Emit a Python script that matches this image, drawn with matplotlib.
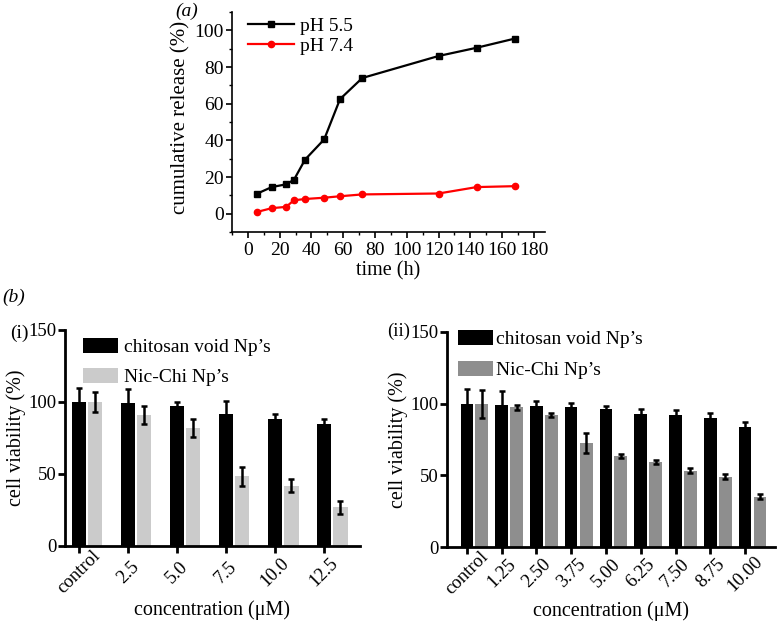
import numpy as np
import matplotlib
matplotlib.use("Agg")
import matplotlib.pyplot as plt
from matplotlib.ticker import MultipleLocator
from matplotlib.patches import Patch

plt.rcParams['font.family'] = ['Liberation Serif', 'DejaVu Serif']

# (a) release data
time_h = [6, 15, 24, 29, 36, 48, 58, 72, 120, 144, 168]
ph55 = [11, 14.5, 16, 18.5, 29.5, 40.5, 62.5, 74, 86, 90.5, 95.5]
ph74 = [1, 3, 3.7, 7.3, 8, 8.7, 9.5, 10.5, 11, 14.5, 15]

# (b)(i) viability
conc_i = ['control', '2.5', '5.0', '7.5', '10.0', '12.5']
void_i = [100, 99, 97, 92, 88.5, 84.5]
void_i_err = [10, 10, 3, 9, 3, 3.5]
nic_i = [100, 91, 82, 48.5, 42, 27]
nic_i_err = [7, 6, 6.5, 6.5, 4.5, 4.5]

# (b)(ii) viability
conc_ii = ['control', '1.25', '2.50', '3.75', '5.00', '6.25', '7.50', '8.75', '10.00']
void_ii = [100, 99.4, 98.3, 97.8, 96, 92.5, 92, 89.7, 84]
void_ii_err = [10, 9.5, 3.5, 3, 2.7, 3.5, 3.5, 3.5, 3]
nic_ii = [100, 97.4, 92, 72.8, 63.7, 59.1, 53.3, 49.1, 35.2]
nic_ii_err = [9.7, 1.5, 1.5, 7, 1.5, 1.5, 1.5, 1.5, 1.5]

fig = plt.figure(figsize=(7.77, 6.21), dpi=100)

# ---------- panel (a) ----------
ax = fig.add_axes([232/777, 1-232/621, 313/777, 220/621])
ax.plot(time_h, ph55, color='black', lw=1.6, marker='s', ms=4.5, label='pH 5.5')
ax.plot(time_h, ph74, color='red', lw=1.6, marker='o', ms=4.5, label='pH 7.4')
ax.set_xlim(-10, 187)
ax.set_ylim(-10, 110)
ax.set_xticks(range(0, 181, 20))
ax.set_yticks(range(0, 101, 20))
ax.xaxis.set_minor_locator(MultipleLocator(10))
ax.yaxis.set_minor_locator(MultipleLocator(10))
ax.spines['top'].set_visible(False)
ax.spines['right'].set_visible(False)
ax.spines['left'].set_linewidth(1.2)
ax.spines['bottom'].set_linewidth(1.2)
ax.tick_params(which='major', direction='out', length=4, width=1.2, labelsize=14)
ax.tick_params(which='minor', direction='out', length=2.5, width=1.0)
ax.tick_params(axis='y', pad=2)
ax.set_xlabel('time (h)', fontsize=14.5, labelpad=1)
ax.set_ylabel('cumulative release (%)', fontsize=15)
ax.yaxis.set_label_coords(-42/313, (232-117)/220)
ax.legend(loc='upper left', bbox_to_anchor=(0.05, 0.977), frameon=False, fontsize=14,
          handlelength=2.4, handletextpad=0.3, labelspacing=0.12, borderaxespad=0,
          borderpad=0)
fig.text(175/777, 1-11/621, '(a)', fontsize=14, style='italic', va='center')


def bar_panel(rect, cats, v1, e1, v2, e2, gray, off, w1, w2, xlim, leg_xy, txtpad, lspace):
    ax = fig.add_axes(rect)
    x = np.arange(len(cats))
    ax.bar(x, v1, width=w1, color='black', zorder=2)
    ax.errorbar(x, v1, yerr=e1, fmt='none', ecolor='black', elinewidth=1.8,
                capsize=2.5, capthick=1.8, zorder=3)
    ax.bar(x + off, v2, width=w2, color=gray, zorder=2)
    ax.errorbar(x + off, v2, yerr=e2, fmt='none', ecolor='black', elinewidth=1.8,
                capsize=2.5, capthick=1.8, zorder=3)
    ax.set_xlim(*xlim)
    ax.set_ylim(0, 150)
    ax.set_yticks([0, 50, 100, 150])
    ax.set_xticks(x)
    ax.set_xticklabels(cats, rotation=45, ha='center', va='center', fontsize=12.5)
    ax.spines['top'].set_visible(False)
    ax.spines['right'].set_visible(False)
    ax.spines['left'].set_linewidth(2)
    ax.spines['bottom'].set_linewidth(2)
    ax.tick_params(direction='out', length=5, width=2, labelsize=13.5)
    ax.tick_params(axis='y', pad=1)
    ax.tick_params(axis='x', pad=14)
    ax.set_xlabel('concentration (μM)', fontsize=14.5)
    ax.xaxis.label.set_va('center')
    ax.xaxis.set_label_coords(0.5, -64/216)
    ax.set_ylabel('cell viability (%)', fontsize=14.5, labelpad=2)
    handles = [Patch(facecolor='black', edgecolor='none'),
               Patch(facecolor=gray, edgecolor='none')]
    ax.legend(handles, ["chitosan void Np’s", "Nic-Chi Np’s"], loc='upper left',
              bbox_to_anchor=leg_xy, frameon=False, fontsize=14,
              handlelength=1.8, handleheight=0.8, handletextpad=txtpad,
              labelspacing=lspace, borderaxespad=0, borderpad=0)
    return ax


bar_panel([65/777, 1-546/621, 295/777, 216/621], conc_i, void_i, void_i_err,
          nic_i, nic_i_err, '#cbcbcb', 0.33, 0.29, 0.29, (-0.29, 5.73),
          (0.061, 0.962), 0.3, 0.6)
bar_panel([447/777, 1-547/621, 328/777, 215/621], conc_ii, void_ii, void_ii_err,
          nic_ii, nic_ii_err, '#8e8e8e', 0.43, 0.36, 0.37, (-0.57, 8.86),
          (0.034, 1.011), 0.15, 0.68)

fig.text(2/777, 1-297/621, '(b)', fontsize=14, style='italic', va='center')
fig.text(10/777, 1-333/621, '(i)', fontsize=14, va='center')
fig.text(387/777, 1-331/621, '(ii)', fontsize=13.5, va='center')

fig.savefig('out.png', dpi=100)
